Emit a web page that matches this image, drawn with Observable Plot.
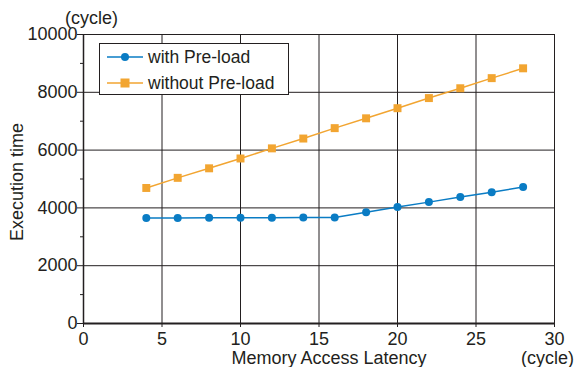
<!DOCTYPE html>
<html>
<head>
<meta charset="utf-8">
<script src="https://cdn.jsdelivr.net/npm/d3@7"></script>
<script src="https://cdn.jsdelivr.net/npm/@observablehq/plot@0.6"></script>
<style>
  body { margin: 0; background: #fff; }
  #wrap { position: relative; width: 574px; height: 367px; font-family: "Liberation Sans", Arial, sans-serif; color: #231f20; }
  #legend { position: absolute; left: 99px; top: 43px; width: 190px; height: 52px; border: 1px solid #231f20; background: #fff; box-sizing: border-box; font-size: 17.5px; }
  .entry { position: absolute; left: 7px; display: flex; align-items: center; height: 20px; }
  .entry svg { display: block; margin-right: 5px; }
</style>
</head>
<body>
<div id="wrap"></div>
<script>
const latency = [4, 6, 8, 10, 12, 14, 16, 18, 20, 22, 24, 26, 28];
const withPreload = [3650, 3650, 3655, 3655, 3660, 3665, 3670, 3850, 4030, 4200, 4380, 4540, 4720];
const withoutPreload = [4690, 5040, 5370, 5710, 6060, 6400, 6760, 7100, 7450, 7800, 8140, 8490, 8830];
const seriesNames = ["with Pre-load", "without Pre-load"];
const seriesColors = ["#0a7cc4", "#f2a531"];
const xTicks = [0, 5, 10, 15, 20, 25, 30];
const yTicks = [0, 2000, 4000, 6000, 8000, 10000];
const yMinorTicks = [1000, 3000, 5000, 7000, 9000];
const xGrid = [5, 10, 15, 20, 25, 30];
const yGrid = [2000, 4000, 6000, 8000, 10000];

const rowsWith = latency.map((x, i) => ({x, y: withPreload[i]}));
const rowsWithout = latency.map((x, i) => ({x, y: withoutPreload[i]}));
const ink = "#231f20";
const fs = 18;

const chart = Plot.plot({
  width: 574,
  height: 367,
  marginLeft: 83,
  marginRight: 20,
  marginTop: 34,
  marginBottom: 44,
  style: {fontFamily: '"Liberation Sans", Arial, sans-serif', fontSize: fs + "px", color: ink, background: "#fff", overflow: "visible"},
  x: {domain: [0, 30], axis: null},
  y: {domain: [0, 10000], axis: null},
  marks: [
    Plot.gridX(xGrid, {stroke: ink, strokeOpacity: 1, strokeWidth: 1}),
    Plot.gridY(yGrid, {stroke: ink, strokeOpacity: 1, strokeWidth: 1}),
    Plot.axisY(yMinorTicks, {tickSize: 3, tickFormat: () => "", label: null, stroke: ink}),
    Plot.axisY(yTicks, {tickSize: 6, tickPadding: 0, tickFormat: d3.format("d"), label: null, stroke: ink, fill: ink, fontSize: fs}),
    Plot.axisX(xTicks, {tickSize: 4, tickPadding: 5, tickFormat: d3.format("d"), label: null, stroke: ink, fill: ink, fontSize: fs}),
    Plot.ruleY([0], {stroke: ink, strokeWidth: 2}),
    Plot.ruleX([0], {stroke: ink, strokeWidth: 1.5}),
    Plot.line(rowsWithout, {x: "x", y: "y", stroke: seriesColors[1], strokeWidth: 1.5}),
    Plot.dot(rowsWithout, {x: "x", y: "y", symbol: "square", r: 4.5, fill: seriesColors[1], stroke: "none"}),
    Plot.line(rowsWith, {x: "x", y: "y", stroke: seriesColors[0], strokeWidth: 1.5}),
    Plot.dot(rowsWith, {x: "x", y: "y", r: 4, fill: seriesColors[0], stroke: "none"}),
    Plot.text(["(cycle)"], {frameAnchor: "top-left", textAnchor: "middle", lineAnchor: "middle", dx: 8, dy: -16, fill: ink, fontSize: fs}),
    Plot.text(["(cycle)"], {frameAnchor: "bottom-right", textAnchor: "middle", lineAnchor: "middle", dx: -7, dy: 35, fill: ink, fontSize: fs}),
    Plot.text(["Memory Access Latency"], {frameAnchor: "bottom", textAnchor: "middle", lineAnchor: "middle", dx: 10, dy: 35, fill: ink, fontSize: fs}),
    Plot.text(["Execution time"], {frameAnchor: "left", textAnchor: "middle", lineAnchor: "middle", dx: -66, dy: 3, rotate: -90, fill: ink, fontSize: fs})
  ]
});

const wrap = document.getElementById("wrap");
wrap.appendChild(chart);

const legend = document.createElement("div");
legend.id = "legend";
seriesNames.forEach((name, i) => {
  const e = document.createElement("div");
  e.className = "entry";
  e.style.top = (i === 0 ? 3 : 29) + "px";
  const sym = i === 0
    ? `<circle cx="18" cy="10" r="4" fill="${seriesColors[i]}"/>`
    : `<rect x="13.5" y="5.5" width="9" height="9" fill="${seriesColors[i]}"/>`;
  e.innerHTML = `<svg width="36" height="20"><line x1="0" x2="36" y1="10" y2="10" stroke="${seriesColors[i]}" stroke-width="1.5"/>${sym}</svg><span>${name}</span>`;
  legend.appendChild(e);
});
wrap.appendChild(legend);
</script>
</body>
</html>
